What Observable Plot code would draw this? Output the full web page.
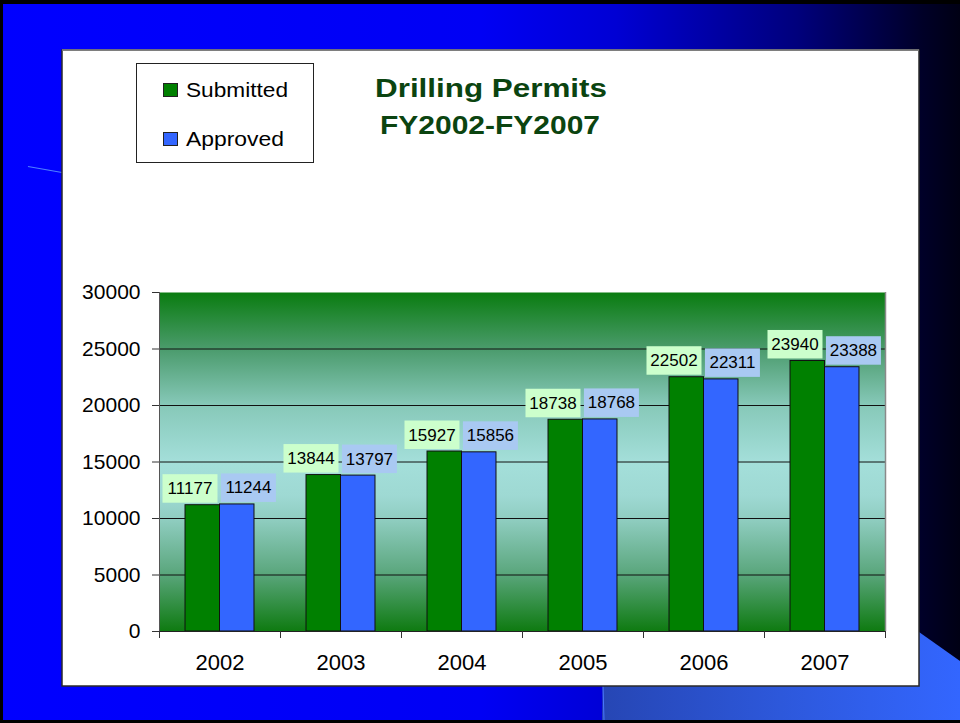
<!DOCTYPE html>
<html>
<head>
<meta charset="utf-8">
<script src="https://cdn.jsdelivr.net/npm/d3@7"></script>
<script src="https://cdn.jsdelivr.net/npm/@observablehq/plot@0.6"></script>
<style>
  html, body { margin: 0; padding: 0; background: #000; }
  #slide { position: relative; width: 960px; height: 723px; overflow: hidden; font-family: "Liberation Sans", Arial, sans-serif; }
  #slide > svg { position: absolute; left: 0; top: 0; }
</style>
</head>
<body>
<div id="slide">
  <svg id="bg" width="960" height="723" viewBox="0 0 960 723">
    <defs>
      <linearGradient id="bgBlue" x1="0" x2="1" y1="0" y2="0">
        <stop offset="0" stop-color="#0000ff"/>
        <stop offset="0.5" stop-color="#0000f4"/>
        <stop offset="0.64" stop-color="#0000d4"/>
        <stop offset="0.83" stop-color="#00007c"/>
        <stop offset="0.96" stop-color="#000028"/>
        <stop offset="1" stop-color="#000014"/>
      </linearGradient>
      <linearGradient id="bgLight" x1="0" x2="1" y1="0" y2="0">
        <stop offset="0" stop-color="#2646b4"/>
        <stop offset="0.5" stop-color="#2d58db"/>
        <stop offset="1" stop-color="#3366ff"/>
      </linearGradient>
    </defs>
    <rect x="0" y="0" width="960" height="723" fill="#000"/>
    <rect x="3" y="4" width="957" height="716" fill="url(#bgBlue)"/>
    <polygon points="602,720 605,560 919,632 960,661 960,720" fill="url(#bgLight)"/>
    <line x1="603" y1="686" x2="604" y2="720" stroke="#4a78ff" stroke-width="1"/>
    <line x1="28" y1="166.5" x2="62" y2="172.5" stroke="#4f80ff" stroke-width="1.2"/>
    <rect x="62" y="50" width="857" height="636" fill="#fff" stroke="#2a2a2a" stroke-width="1.5"/>
    <line x1="62" y1="50" x2="919" y2="50" stroke="#8a8a8a" stroke-width="1.5"/>
    <!-- legend -->
    <rect x="136.5" y="63.5" width="177" height="99" fill="#fff" stroke="#222" stroke-width="1"/>
    <rect x="163.5" y="83.5" width="14" height="13" fill="#008000" stroke="#222" stroke-width="1"/>
    <rect x="163.5" y="132.5" width="14" height="13" fill="#3366ff" stroke="#222" stroke-width="1"/>
    <text x="186" y="97" font-size="21" textLength="102" lengthAdjust="spacingAndGlyphs" fill="#000">Submitted</text>
    <text x="186" y="145.5" font-size="21" textLength="98" lengthAdjust="spacingAndGlyphs" fill="#000">Approved</text>
    <!-- title -->
    <text x="491" y="97" font-size="25.5" font-weight="bold" text-anchor="middle" textLength="232" lengthAdjust="spacingAndGlyphs" fill="#0b4410">Drilling Permits</text>
    <text x="490" y="134" font-size="25.5" font-weight="bold" text-anchor="middle" textLength="220" lengthAdjust="spacingAndGlyphs" fill="#0b4410">FY2002-FY2007</text>
  </svg>
</div>
<script>
const years = ["2002", "2003", "2004", "2005", "2006", "2007"];
const submitted = [11177, 13844, 15927, 18738, 22502, 23940];
const approved = [11244, 13797, 15856, 18768, 22311, 23388];
const yTicks = [0, 5000, 10000, 15000, 20000, 25000, 30000];
const gridValues = [5000, 10000, 15000, 20000, 25000];

const subRows = years.map((year, i) => ({i, year, series: "Submitted", value: submitted[i]}));
const appRows = years.map((year, i) => ({i, year, series: "Approved", value: approved[i]}));

const chart = Plot.plot({
  width: 960,
  height: 723,
  marginLeft: 159,
  marginRight: 75,
  marginTop: 292,
  marginBottom: 92,
  style: {fontFamily: "'Liberation Sans', Arial, sans-serif", background: "transparent", color: "#000", overflow: "visible"},
  x: {type: "linear", domain: [0, years.length]},
  y: {domain: [0, 30000]},
  marks: [
    Plot.frame({fill: "url(#plotGrad)", stroke: "none"}),
    Plot.ruleY(gridValues, {stroke: "#111", strokeWidth: 1}),
    Plot.rect(subRows, {x1: d => d.i + 0.215, x2: d => d.i + 0.5, y1: 0, y2: "value", fill: "#008000", stroke: "#111", strokeWidth: 1}),
    Plot.rect(appRows, {x1: d => d.i + 0.5, x2: d => d.i + 0.785, y1: 0, y2: "value", fill: "#3366ff", stroke: "#111", strokeWidth: 1}),
    Plot.ruleX([years.length], {stroke: "#8a8a8a", strokeWidth: 1.5}),
    Plot.ruleX([0], {stroke: "#555", strokeWidth: 1}),
    Plot.ruleY([0], {stroke: "#222", strokeWidth: 1}),
    Plot.text(subRows, {x: d => d.i + 0.252, y: "value", text: d => String(d.value), lineAnchor: "bottom", dy: -11, fontSize: 17, fill: "#000"}),
    Plot.text(appRows, {x: d => d.i + 0.735, y: "value", text: d => String(d.value), lineAnchor: "bottom", dy: -11, fontSize: 17, fill: "#000"}),
    Plot.axisY({ticks: yTicks, tickSize: 7, tickPadding: 12, fontSize: 21, stroke: "#333", fill: "#000", tickFormat: d => String(d), label: null}),
    Plot.axisX({ticks: d3.range(0, years.length + 1), tickSize: 7, stroke: "#333", tickFormat: () => "", label: null}),
    Plot.axisX({ticks: years.map((_, i) => i + 0.5), tickSize: 0, tickPadding: 23, fontSize: 22, fill: "#000", tickFormat: v => years[Math.floor(v)], label: null})
  ]
});

document.getElementById("slide").append(chart);

// gradient for the plot area
const ns = "http://www.w3.org/2000/svg";
const defs = document.createElementNS(ns, "defs");
defs.innerHTML = `<linearGradient id="plotGrad" x1="0" x2="0" y1="0" y2="1">
  <stop offset="0" stop-color="#0a7c10"/>
  <stop offset="0.17" stop-color="#4c9c6e"/>
  <stop offset="0.33" stop-color="#86c8b8"/>
  <stop offset="0.5" stop-color="#a4dfda"/>
  <stop offset="0.6" stop-color="#9ed9d3"/>
  <stop offset="0.67" stop-color="#8fcdc0"/>
  <stop offset="0.83" stop-color="#5aa67c"/>
  <stop offset="1" stop-color="#0e7a10"/>
</linearGradient>`;
chart.insertBefore(defs, chart.firstChild);

// label boxes behind value texts (identified by their values)
const subSet = new Set(submitted.map(String));
const appSet = new Set(approved.map(String));
chart.querySelectorAll("text").forEach(t => {
  const s = t.textContent.trim();
  let fill = null;
  if (subSet.has(s)) fill = "#ccffcc";
  else if (appSet.has(s)) fill = "#a9c9f2";
  if (!fill) return;
  const b = t.getBBox();
  const cx = b.x + b.width / 2;
  const bottom = b.y + b.height + 4.5;
  const r = document.createElementNS(ns, "rect");
  r.setAttribute("x", cx - 27.5);
  r.setAttribute("y", bottom - 28.5);
  r.setAttribute("width", 55);
  r.setAttribute("height", 28.5);
  r.setAttribute("fill", fill);
  r.setAttribute("stroke", "none");
  const tr = t.getAttribute("transform");
  if (tr) r.setAttribute("transform", tr);
  t.parentNode.insertBefore(r, t);
});
</script>
</body>
</html>
